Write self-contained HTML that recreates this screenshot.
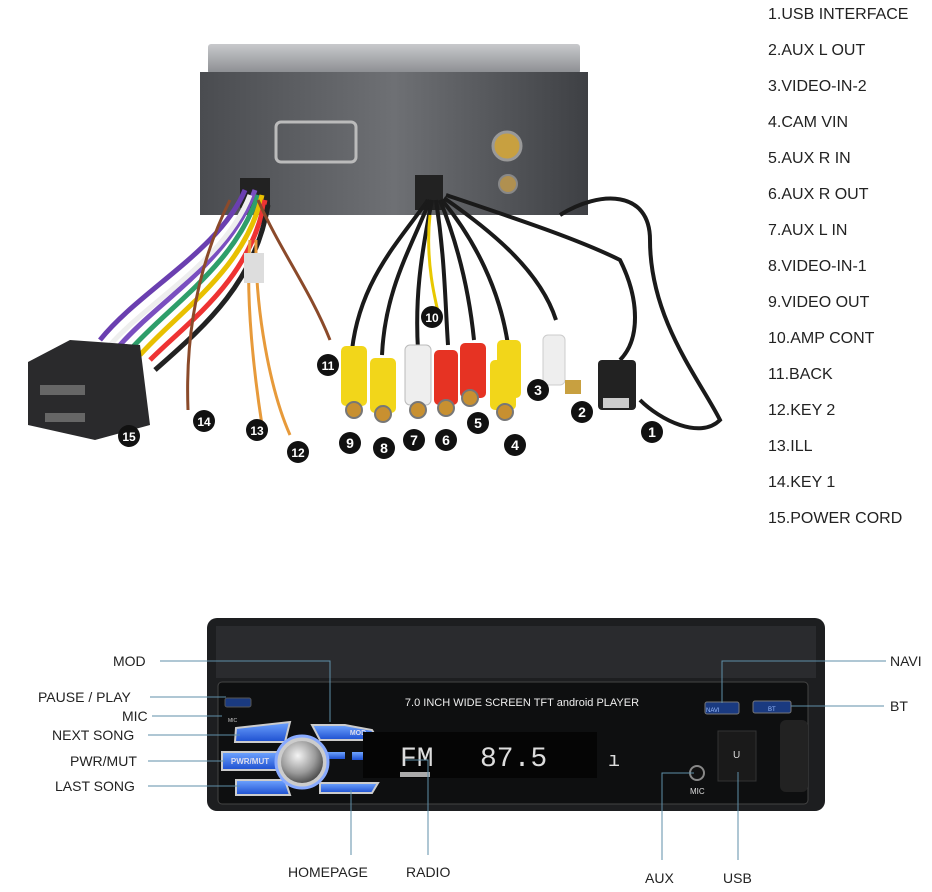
<!DOCTYPE html>
<html><head><meta charset="utf-8"><style>
html,body{margin:0;padding:0;background:#fff;}
body{width:932px;height:892px;position:relative;overflow:hidden;font-family:"Liberation Sans",sans-serif;}
.l{position:absolute;left:768px;font-size:16px;color:#222;}
.t{position:absolute;font-size:14px;color:#222;white-space:nowrap;}
svg{position:absolute;left:0;top:0;}
</style></head><body>
<svg width="932" height="892" viewBox="0 0 932 892">
<defs>
<linearGradient id="box" x1="0" y1="0" x2="1" y2="0"><stop offset="0" stop-color="#4a4c50"/><stop offset=".5" stop-color="#6e7074"/><stop offset="1" stop-color="#3e4044"/></linearGradient>
<linearGradient id="lid" x1="0" y1="0" x2="0" y2="1"><stop offset="0" stop-color="#c8c9cc"/><stop offset="1" stop-color="#8a8c90"/></linearGradient>
<radialGradient id="knob" cx=".4" cy=".35" r=".7"><stop offset="0" stop-color="#f4f4f4"/><stop offset=".6" stop-color="#9a9a9a"/><stop offset="1" stop-color="#444"/></radialGradient>
<linearGradient id="btn" x1="0" y1="0" x2="0" y2="1"><stop offset="0" stop-color="#6fa4ff"/><stop offset="1" stop-color="#1d4fd0"/></linearGradient>
</defs>
<rect x="208" y="44" width="372" height="30" fill="url(#lid)" rx="3"/>
<rect x="200" y="72" width="388" height="143" fill="url(#box)"/>
<rect x="276" y="122" width="80" height="40" rx="5" fill="none" stroke="#bbb" stroke-width="3"/>
<circle cx="507" cy="146" r="14" fill="#c8a040" stroke="#999" stroke-width="3"/>
<circle cx="508" cy="184" r="9" fill="#b09050" stroke="#888" stroke-width="2"/>
<rect x="240" y="178" width="30" height="30" fill="#222"/>
<rect x="415" y="175" width="28" height="35" fill="#222"/>
<g fill="none" stroke-width="5">
<path d="M255 190 C230 260 160 300 120 345" stroke="#7a4fc0"/>
<path d="M258 195 C235 265 170 305 130 350" stroke="#2e9e6a"/>
<path d="M262 195 C245 270 180 310 140 355" stroke="#e8c000"/>
<path d="M250 195 C225 260 150 300 110 345" stroke="#eee"/>
<path d="M265 200 C250 280 190 320 150 360" stroke="#e33"/>
<path d="M245 190 C220 250 140 290 100 340" stroke="#6a3fb0"/>
<path d="M268 205 C255 285 200 330 155 370" stroke="#222"/>
<path d="M230 200 C200 260 185 330 188 410" stroke="#8b4a2a" stroke-width="3"/>
<path d="M250 240 C245 300 255 380 262 425" stroke="#e79a3a" stroke-width="3"/>
<path d="M256 240 C255 310 270 390 290 435" stroke="#e79a3a" stroke-width="3"/>
<path d="M258 200 C280 250 310 290 330 340" stroke="#8b4a2a" stroke-width="3"/>
</g>
<rect x="244" y="253" width="20" height="30" fill="#ddd"/>
<path d="M28 362 L70 340 L140 345 L150 425 L95 440 L28 425 Z" fill="#2a2a2c"/>
<rect x="40" y="385" width="45" height="10" fill="#666"/>
<rect x="45" y="413" width="40" height="9" fill="#666"/>
<g fill="none" stroke="#1a1a1a" stroke-width="4">
<path d="M428 200 C400 240 360 280 352 350"/>
<path d="M430 200 C410 250 385 290 382 355"/>
<path d="M432 200 C420 260 415 300 418 350"/>
<path d="M436 200 C445 260 445 300 448 345"/>
<path d="M440 200 C460 250 470 300 474 340"/>
<path d="M442 200 C475 240 500 290 508 345"/>
<path d="M444 198 C490 230 540 270 556 320"/>
<path d="M446 195 C520 220 580 240 620 260 C640 300 640 340 620 360"/>
<path d="M560 215 C600 190 650 190 650 240 C650 320 700 380 720 420 C700 440 660 420 640 400"/>
</g>
<path d="M430 215 C425 260 435 300 440 320" stroke="#e8c800" stroke-width="3" fill="none"/>
<g>
<rect x="341" y="346" width="26" height="60" rx="5" fill="#f2d61a"/><circle cx="354" cy="410" r="8" fill="#c89030" stroke="#777" stroke-width="2"/>
<rect x="370" y="358" width="26" height="55" rx="5" fill="#f2d61a"/><circle cx="383" cy="414" r="8" fill="#c89030" stroke="#777" stroke-width="2"/>
<rect x="405" y="345" width="26" height="60" rx="5" fill="#eee" stroke="#bbb"/><circle cx="418" cy="410" r="8" fill="#c89030" stroke="#777" stroke-width="2"/>
<rect x="434" y="350" width="24" height="55" rx="5" fill="#e63323"/><circle cx="446" cy="408" r="8" fill="#c89030" stroke="#777" stroke-width="2"/>
<rect x="460" y="343" width="26" height="55" rx="5" fill="#e63323"/><circle cx="470" cy="398" r="8" fill="#c89030" stroke="#777" stroke-width="2"/>
<rect x="497" y="340" width="24" height="58" rx="5" fill="#f2d61a"/>
<rect x="490" y="360" width="26" height="50" rx="5" fill="#f2d61a"/><circle cx="505" cy="412" r="8" fill="#c89030" stroke="#777" stroke-width="2"/>
<rect x="543" y="335" width="22" height="50" rx="5" fill="#eee" stroke="#ccc"/><rect x="565" y="380" width="16" height="14" fill="#c8a040"/>
<rect x="598" y="360" width="38" height="50" rx="4" fill="#222"/><rect x="603" y="398" width="26" height="10" fill="#ccc"/>
</g>
<g font-family="Liberation Sans" font-weight="bold" font-size="14" fill="#fff" text-anchor="middle">
<circle cx="652" cy="432" r="11" fill="#111"/><text x="652" y="437">1</text>
<circle cx="582" cy="412" r="11" fill="#111"/><text x="582" y="417">2</text>
<circle cx="538" cy="390" r="11" fill="#111"/><text x="538" y="395">3</text>
<circle cx="515" cy="445" r="11" fill="#111"/><text x="515" y="450">4</text>
<circle cx="478" cy="423" r="11" fill="#111"/><text x="478" y="428">5</text>
<circle cx="446" cy="440" r="11" fill="#111"/><text x="446" y="445">6</text>
<circle cx="414" cy="440" r="11" fill="#111"/><text x="414" y="445">7</text>
<circle cx="384" cy="448" r="11" fill="#111"/><text x="384" y="453">8</text>
<circle cx="350" cy="443" r="11" fill="#111"/><text x="350" y="448">9</text>
<circle cx="432" cy="317" r="11" fill="#111"/><text x="432" y="322" font-size="12">10</text>
<circle cx="328" cy="365" r="11" fill="#111"/><text x="328" y="370" font-size="12">11</text>
<circle cx="298" cy="452" r="11" fill="#111"/><text x="298" y="457" font-size="12">12</text>
<circle cx="257" cy="430" r="11" fill="#111"/><text x="257" y="435" font-size="12">13</text>
<circle cx="204" cy="421" r="11" fill="#111"/><text x="204" y="426" font-size="12">14</text>
<circle cx="129" cy="436" r="11" fill="#111"/><text x="129" y="441" font-size="12">15</text>
</g>
<rect x="207" y="618" width="618" height="193" rx="10" fill="#1d1e20"/>
<rect x="216" y="626" width="600" height="52" fill="#2a2b2e"/>
<rect x="218" y="682" width="590" height="122" rx="4" fill="#0e0f10" stroke="#444"/>
<rect x="225" y="698" width="26" height="9" rx="2" fill="#1a3a80" stroke="#555"/>
<rect x="705" y="702" width="34" height="12" rx="2" fill="#1a3a80" stroke="#777"/>
<rect x="753" y="701" width="38" height="12" rx="2" fill="#1a3a80" stroke="#777"/>
<text x="522" y="706" font-family="Liberation Sans" font-size="11" fill="#eee" text-anchor="middle">7.0 INCH WIDE SCREEN TFT android PLAYER</text>
<text x="706" y="712" font-family="Liberation Sans" font-size="6" fill="#9bf">NAVI</text>
<text x="768" y="711" font-family="Liberation Sans" font-size="6" fill="#9bf">BT</text>
<path d="M236 728 L290 722 L285 742 L235 742 Z" fill="url(#btn)" stroke="#ccc" stroke-width="2"/>
<path d="M222 752 L282 752 L282 770 L222 770 Z" fill="url(#btn)" stroke="#ccc" stroke-width="2"/>
<path d="M236 780 L285 780 L290 795 L236 795 Z" fill="url(#btn)" stroke="#ccc" stroke-width="2"/>
<path d="M312 725 L345 725 L350 726 L372 730 L378 740 L320 740 Z" fill="url(#btn)" stroke="#ccc" stroke-width="2"/>
<path d="M320 783 L378 783 L372 793 L320 793 Z" fill="url(#btn)" stroke="#ccc" stroke-width="2"/>
<rect x="327" y="752" width="18" height="7" fill="url(#btn)"/>
<rect x="352" y="752" width="18" height="8" fill="url(#btn)"/>
<text x="250" y="764" font-family="Liberation Sans" font-size="8" fill="#dde" text-anchor="middle" font-weight="bold">PWR/MUT</text>
<text x="358" y="735" font-family="Liberation Sans" font-size="7" fill="#dde" text-anchor="middle" font-weight="bold">MOD</text>
<text x="373" y="759" font-family="Liberation Sans" font-size="6" fill="#ccd">RADIO</text>
<circle cx="302" cy="762" r="26" fill="#ccc" stroke="#88aaff" stroke-width="3"/>
<circle cx="302" cy="762" r="21" fill="url(#knob)"/>
<text x="228" y="722" font-family="Liberation Sans" font-size="5" fill="#ccc">MIC</text>
<rect x="363" y="732" width="234" height="46" fill="#050505"/>
<text x="400" y="766" font-family="Liberation Mono" font-size="28" fill="#ddd">FM</text>
<text x="480" y="766" font-family="Liberation Mono" font-size="28" fill="#ddd">87.5</text>
<text x="608" y="766" font-family="Liberation Mono" font-size="20" fill="#ddd">ı</text>
<rect x="400" y="772" width="30" height="5" fill="#aaa"/>
<circle cx="697" cy="773" r="7" fill="#111" stroke="#888" stroke-width="2"/>
<text x="690" y="794" font-family="Liberation Sans" font-size="8" fill="#ddd">MIC</text>
<rect x="718" y="731" width="38" height="50" fill="#1a1a1a" stroke="#333"/>
<text x="733" y="758" font-family="Liberation Sans" font-size="10" fill="#ddd">U</text>
<rect x="780" y="720" width="28" height="72" rx="6" fill="#222"/>
<g stroke="#5f8fa8" stroke-width="1" fill="none">
<polyline points="160,661 330,661 330,722"/>
<line x1="150" y1="697" x2="226" y2="697"/>
<line x1="152" y1="716" x2="222" y2="716"/>
<line x1="148" y1="735" x2="240" y2="735"/>
<line x1="148" y1="761" x2="225" y2="761"/>
<line x1="148" y1="786" x2="240" y2="786"/>
<line x1="351" y1="790" x2="351" y2="855"/>
<polyline points="405,760 428,760 428,855"/>
<polyline points="694,773 662,773 662,860"/>
<line x1="738" y1="772" x2="738" y2="860"/>
<polyline points="886,661 722,661 722,703"/>
<line x1="791" y1="706" x2="884" y2="706"/>
</g>
</svg>
<div class="l" style="top:6px">1.USB INTERFACE</div>
<div class="l" style="top:42px">2.AUX L OUT</div>
<div class="l" style="top:78px">3.VIDEO-IN-2</div>
<div class="l" style="top:114px">4.CAM VIN</div>
<div class="l" style="top:150px">5.AUX R IN</div>
<div class="l" style="top:186px">6.AUX R OUT</div>
<div class="l" style="top:222px">7.AUX L IN</div>
<div class="l" style="top:258px">8.VIDEO-IN-1</div>
<div class="l" style="top:294px">9.VIDEO OUT</div>
<div class="l" style="top:330px">10.AMP CONT</div>
<div class="l" style="top:366px">11.BACK</div>
<div class="l" style="top:402px">12.KEY 2</div>
<div class="l" style="top:438px">13.ILL</div>
<div class="l" style="top:474px">14.KEY 1</div>
<div class="l" style="top:510px">15.POWER CORD</div>
<div class="t" style="left:113px;top:653px">MOD</div>
<div class="t" style="left:38px;top:689px">PAUSE / PLAY</div>
<div class="t" style="left:122px;top:708px">MIC</div>
<div class="t" style="left:52px;top:727px">NEXT SONG</div>
<div class="t" style="left:70px;top:753px">PWR/MUT</div>
<div class="t" style="left:55px;top:778px">LAST SONG</div>
<div class="t" style="left:288px;top:864px">HOMEPAGE</div>
<div class="t" style="left:406px;top:864px">RADIO</div>
<div class="t" style="left:645px;top:870px">AUX</div>
<div class="t" style="left:723px;top:870px">USB</div>
<div class="t" style="left:890px;top:653px">NAVI</div>
<div class="t" style="left:890px;top:698px">BT</div>
</body></html>
